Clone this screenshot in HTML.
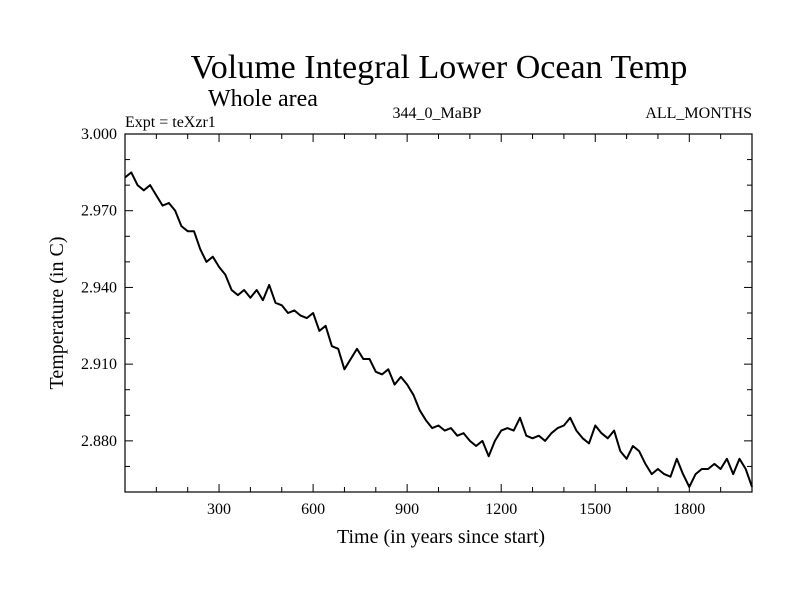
<!DOCTYPE html>
<html><head><meta charset="utf-8"><style>
html,body{margin:0;padding:0;background:#fff;}
svg{display:block;font-family:"Liberation Serif",serif;}
</style></head><body>
<svg id="chart" width="800" height="600">
<text x="439" y="78" font-size="34" text-anchor="middle">Volume Integral Lower Ocean Temp</text>
<text x="208" y="106" font-size="24">Whole area</text>
<text x="125" y="127" font-size="16">Expt = teXzr1</text>
<text x="437" y="118" font-size="16" text-anchor="middle">344_0_MaBP</text>
<text x="752" y="118" font-size="16" text-anchor="end">ALL_MONTHS</text>
<text x="441" y="543" font-size="20" text-anchor="middle">Time (in years since start)</text>
<text x="63" y="313" font-size="20" text-anchor="middle" transform="rotate(-90 63 313)">Temperature (in C)</text>
<g id="ticks"></g>
<path id="line" fill="none" stroke="#000" stroke-width="2" stroke-linejoin="round"></path>
<rect x="125" y="134" width="627" height="358" fill="none" stroke="#000" stroke-width="1.2"></rect>
</svg>
<script>
const years=[];for(let i=0;i<=100;i++)years.push(i*20);
const temps=[2.983,2.985,2.980,2.978,2.980,2.976,2.972,2.973,2.970,2.964,2.962,2.962,2.955,2.950,2.952,2.948,2.945,2.939,2.937,2.939,2.936,2.939,2.935,2.941,2.934,2.933,2.930,2.931,2.929,2.928,2.930,2.923,2.925,2.917,2.916,2.908,2.912,2.916,2.912,2.912,2.907,2.906,2.908,2.902,2.905,2.902,2.898,2.892,2.888,2.885,2.886,2.884,2.885,2.882,2.883,2.880,2.878,2.880,2.874,2.880,2.884,2.885,2.884,2.889,2.882,2.881,2.882,2.880,2.883,2.885,2.886,2.889,2.884,2.881,2.879,2.886,2.883,2.881,2.884,2.876,2.873,2.878,2.876,2.871,2.867,2.869,2.867,2.866,2.873,2.867,2.862,2.867,2.869,2.869,2.871,2.869,2.873,2.867,2.873,2.869,2.862];
const xTickLabels=[300,600,900,1200,1500,1800];
const yTickLabels=["3.000","2.970","2.940","2.910","2.880"];
const X0=125,X1=752,Y0=134,Y1=492,XMIN=0,XMAX=2000,YMIN=2.86,YMAX=3.0;
const xs=v=>X0+(v-XMIN)/(XMAX-XMIN)*(X1-X0);
const ys=v=>Y1-(v-YMIN)/(YMAX-YMIN)*(Y1-Y0);
const NS="http://www.w3.org/2000/svg";
const g=document.getElementById('ticks');
function ln(x1,y1,x2,y2){const l=document.createElementNS(NS,'line');l.setAttribute('x1',x1);l.setAttribute('y1',y1);l.setAttribute('x2',x2);l.setAttribute('y2',y2);l.setAttribute('stroke','#000');l.setAttribute('stroke-width','1');


g.appendChild(l);}
function tx(x,y,s,anchor,name){const t=document.createElementNS(NS,'text');t.setAttribute('x',x);t.setAttribute('y',y);t.setAttribute('font-size','16');t.setAttribute('text-anchor',anchor);t.textContent=s;


g.appendChild(t);}
for(let v=100;v<XMAX;v+=100){const x=xs(v);const L=(v%300===0)?8:5;ln(x,Y1,x,Y1-L);ln(x,Y0,x,Y0+L);}
for(let k=1;k<14;k++){const v=YMIN+k*0.01;const y=ys(v);const major=Math.abs(((YMAX-v)/0.03)-Math.round((YMAX-v)/0.03))<1e-6;const L=major?8:5;ln(X0,y,X0+L,y);ln(X1,y,X1-L,y);}
xTickLabels.forEach(v=>tx(xs(v),514,String(v),'middle','x-tick-label'));
yTickLabels.forEach(s=>tx(117,ys(parseFloat(s))+5,s,'end','y-tick-label'));
let d='';years.forEach((yr,i)=>{d+=(i?'L':'M')+xs(yr).toFixed(1)+' '+ys(temps[i]).toFixed(1);});
document.getElementById('line').setAttribute('d',d);
</script>
</body></html>
